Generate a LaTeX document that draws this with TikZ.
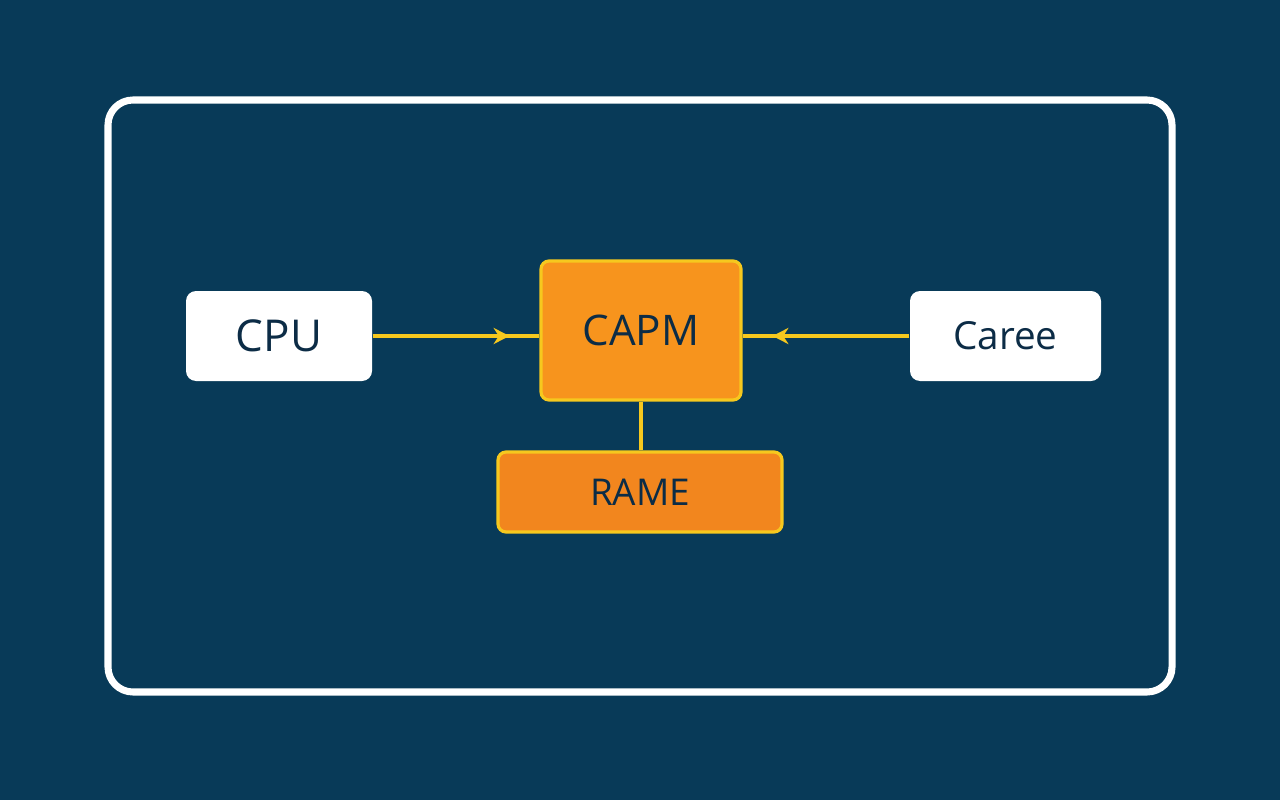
\documentclass[tikz,border=0pt]{standalone}
\usepackage{fontspec}
\setmainfont{Open Sans}
\usetikzlibrary{arrows.meta,decorations.markings}
\definecolor{navybg}{RGB}{8,58,88}
\definecolor{navytext}{RGB}{12,44,70}
\definecolor{capmorange}{RGB}{247,148,29}
\definecolor{rameorange}{RGB}{242,134,30}
\definecolor{linkyellow}{RGB}{246,200,30}
\def\whitenode{\node[whitebox]}
\def\orangenode{\node[orangebox]}

\begin{document}
\begin{tikzpicture}[
  whitebox/.style={draw=none,fill=white,rounded corners=0.1cm,text=navytext,
    inner sep=0pt,font=\fontsize{12.5}{14}\selectfont},
  orangebox/.style={draw=linkyellow,line width=0.9pt,rounded corners=0.08cm,
    text=navytext,inner sep=0pt,font=\fontsize{12}{14}\selectfont},
  link/.style={draw=linkyellow,line width=1pt},
  midarrow/.style={link,postaction={decorate},decoration={markings,
    mark=at position 0.82 with {\arrow{Stealth[length=4.5pt,width=4.6pt]}}}}
]
\useasboundingbox[fill=navybg] (0,0) rectangle (12.8,-8);
\draw[white,line width=2pt,rounded corners=0.25cm] (1.08,-1.00) rectangle (11.72,-6.92);
\whitenode[minimum width=1.86cm,minimum height=0.90cm] (cpu) at (2.79,-3.36) {CPU};
\orangenode[fill=capmorange,minimum width=2.00cm,minimum height=1.39cm] (capm) at (6.41,-3.305) {CAPM};
\whitenode[minimum width=1.91cm,minimum height=0.90cm,font=\fontsize{11}{12}\selectfont] (caree) at (10.055,-3.36) {Caree};
\orangenode[fill=rameorange,minimum width=2.84cm,minimum height=0.80cm,font=\fontsize{10.5}{12}\selectfont] (rame) at (6.40,-4.92) {RAME};
\draw[midarrow] (cpu.east) -- (cpu.east -| capm.west);
\draw[midarrow] (caree.west) -- (caree.west -| capm.east);
\draw[link] (capm.south) -- (capm.south |- rame.north);
\end{tikzpicture}
\end{document}
